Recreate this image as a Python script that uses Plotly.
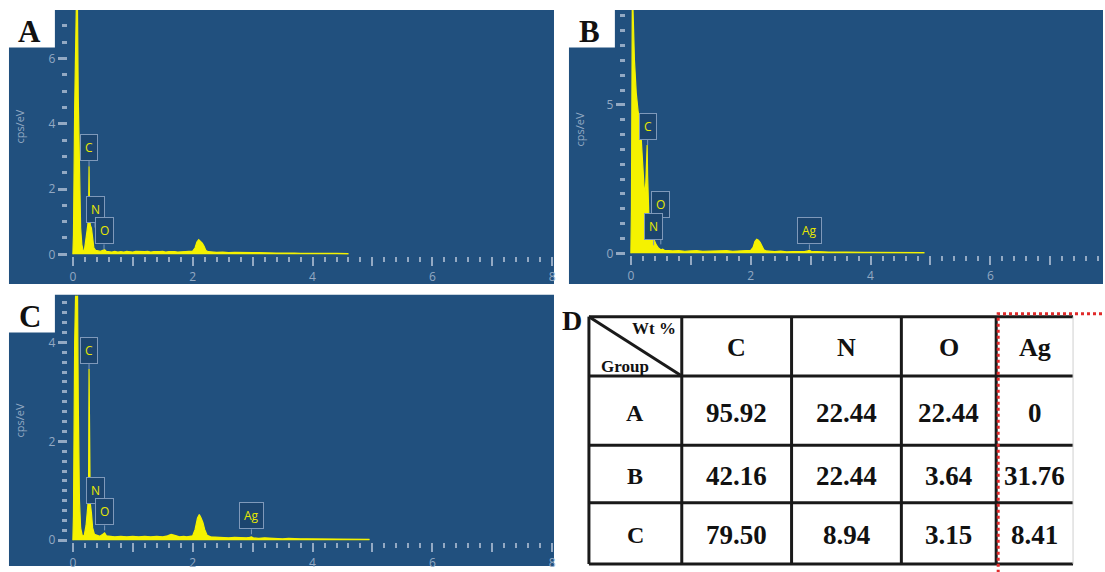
import plotly.graph_objects as go

# ---------------- data ----------------
energy_A = [0.00, 0.01, 0.03, 0.05, 0.07, 0.09, 0.11, 0.13, 0.15, 0.17, 0.19, 0.21, 0.23, 0.25, 0.262, 0.27, 0.278,
            0.29, 0.31, 0.33, 0.35, 0.38, 0.42, 0.46, 0.50, 0.53, 0.56, 0.60, 0.65, 0.70, 0.75, 0.80, 0.85, 0.90,
            0.95, 1.00, 1.05, 1.10, 1.15, 1.20, 1.25, 1.30, 1.35, 1.40, 1.45, 1.50, 1.55, 1.60, 1.65, 1.70, 1.75,
            1.80, 1.85, 1.90, 1.95, 2.00, 2.04, 2.07, 2.10, 2.13, 2.16, 2.19, 2.22, 2.26, 2.30, 2.35, 2.40, 2.50,
            2.60, 2.70, 2.80, 2.90, 3.00, 3.10, 3.20, 3.30, 3.40, 3.50, 3.60, 3.70, 3.80, 3.90, 4.00, 4.10, 4.20,
            4.30, 4.40, 4.50, 4.60]
cps_A = [0.00, 0.60, 4.50, 9.00, 9.00, 4.80, 2.00, 0.80, 0.30, 0.12, 0.10, 0.35, 0.70, 0.90, 1.20, 2.70, 1.30,
         0.90, 0.80, 0.45, 0.20, 0.12, 0.10, 0.09, 0.12, 0.14, 0.09, 0.08, 0.07, 0.09, 0.07, 0.08, 0.07, 0.09,
         0.08, 0.07, 0.09, 0.08, 0.07, 0.08, 0.09, 0.07, 0.08, 0.07, 0.08, 0.09, 0.07, 0.08, 0.09, 0.08, 0.07,
         0.08, 0.07, 0.08, 0.09, 0.10, 0.20, 0.38, 0.45, 0.40, 0.34, 0.25, 0.12, 0.08, 0.07, 0.08, 0.06, 0.07,
         0.05, 0.06, 0.05, 0.06, 0.05, 0.05, 0.04, 0.05, 0.04, 0.04, 0.05, 0.04, 0.03, 0.04, 0.03, 0.03, 0.04,
         0.03, 0.03, 0.02, 0.02]

energy_B = [0.00, 0.01, 0.025, 0.04, 0.06, 0.09, 0.12, 0.16, 0.19, 0.21, 0.23, 0.25, 0.265, 0.272, 0.28, 0.30,
            0.33, 0.36, 0.39, 0.42, 0.46, 0.50, 0.53, 0.56, 0.60, 0.70, 0.80, 0.90, 1.00, 1.10, 1.20, 1.30, 1.40,
            1.50, 1.60, 1.70, 1.80, 1.90, 2.00, 2.04, 2.07, 2.10, 2.13, 2.16, 2.19, 2.22, 2.26, 2.30, 2.40, 2.50,
            2.60, 2.70, 2.80, 2.90, 2.95, 2.98, 3.01, 3.10, 3.20, 3.30, 3.40, 3.50, 3.60, 3.70, 3.80, 3.90, 4.00,
            4.20, 4.40, 4.60, 4.80, 4.90]
cps_B = [0.00, 1.50, 9.00, 8.00, 6.50, 5.40, 4.80, 4.30, 3.40, 2.60, 1.90, 2.40, 3.00, 3.65, 2.60, 1.30,
         0.85, 0.60, 0.45, 0.30, 0.18, 0.12, 0.14, 0.10, 0.09, 0.08, 0.09, 0.07, 0.08, 0.09, 0.07, 0.08, 0.07,
         0.08, 0.09, 0.07, 0.08, 0.08, 0.10, 0.20, 0.40, 0.47, 0.44, 0.36, 0.25, 0.12, 0.08, 0.07, 0.06, 0.07,
         0.05, 0.06, 0.05, 0.06, 0.08, 0.10, 0.07, 0.05, 0.05, 0.04, 0.05, 0.04, 0.04, 0.03, 0.04, 0.03, 0.03,
         0.03, 0.03, 0.02, 0.02, 0.02]

energy_C = [0.00, 0.01, 0.03, 0.05, 0.07, 0.09, 0.11, 0.13, 0.16, 0.19, 0.22, 0.25, 0.262, 0.27, 0.278, 0.29,
            0.31, 0.33, 0.36, 0.40, 0.45, 0.50, 0.53, 0.56, 0.60, 0.70, 0.80, 0.90, 1.00, 1.10, 1.20, 1.30, 1.40,
            1.50, 1.58, 1.64, 1.70, 1.78, 1.85, 1.90, 2.00, 2.04, 2.08, 2.11, 2.14, 2.17, 2.20, 2.24, 2.30, 2.40,
            2.50, 2.60, 2.70, 2.80, 2.90, 2.95, 2.98, 3.01, 3.10, 3.20, 3.30, 3.40, 3.50, 3.60, 3.70, 3.80, 3.90,
            4.00, 4.20, 4.40, 4.60, 4.80, 4.95]
cps_C = [0.00, 0.50, 4.00, 6.50, 6.50, 2.80, 0.80, 0.25, 0.08, 0.10, 0.30, 0.70, 1.00, 3.46, 1.00, 0.75,
         0.55, 0.25, 0.12, 0.10, 0.08, 0.12, 0.15, 0.09, 0.08, 0.07, 0.08, 0.07, 0.08, 0.07, 0.08, 0.07, 0.08,
         0.07, 0.09, 0.12, 0.10, 0.07, 0.08, 0.07, 0.09, 0.22, 0.45, 0.52, 0.45, 0.36, 0.22, 0.10, 0.07, 0.06,
         0.06, 0.05, 0.06, 0.05, 0.05, 0.06, 0.07, 0.05, 0.04, 0.05, 0.04, 0.04, 0.03, 0.04, 0.03, 0.03, 0.03,
         0.03, 0.03, 0.02, 0.02, 0.02, 0.02]

# peak markers (element, energy keV, cps at pointer)
labels_A = ["C", "N", "O"]
label_x_A = [0.27, 0.37, 0.52]
label_y_A = [2.70, 0.82, 0.15]
labels_B = ["C", "O", "N", "Ag"]
label_x_B = [0.28, 0.50, 0.38, 2.98]
label_y_B = [3.65, 0.30, 0.27, 0.13]
labels_C = ["C", "N", "O", "Ag"]
label_x_C = [0.27, 0.38, 0.53, 2.98]
label_y_C = [3.46, 0.64, 0.20, 0.12]

# table (Wt %)
table_elements = ["C", "N", "O", "Ag"]
table_groups = ["A", "B", "C"]
wt_C = [95.92, 42.16, 79.50]
wt_N = [22.44, 22.44, 8.94]
wt_O = [22.44, 3.64, 3.15]
wt_Ag = [0, 31.76, 8.41]

# ---------------- layout helpers ----------------
W, H = 1105, 572
def X(px):
    return px / W
def Y(py):
    return 1 - py / H

BLUE = "#21507e"
TICK = "#93a9c3"
YELLOW = "#f5f200"
SERIF = "Liberation Serif, Times New Roman, serif"
SANS = "Open Sans, Noto Sans, sans-serif"

fig = go.Figure()

for E, c, xa, ya in [(energy_A, cps_A, "x", "y"), (energy_B, cps_B, "x2", "y2"), (energy_C, cps_C, "x3", "y3")]:
    fig.add_trace(go.Scatter(x=E, y=c, xaxis=xa, yaxis=ya, mode="lines", fill="tozeroy",
                             line=dict(color=YELLOW, width=1.2), fillcolor=YELLOW, hoverinfo="skip",
                             showlegend=False, cliponaxis=True))

def xaxis_cfg(d0, d1, r1, anchor):
    return dict(domain=[X(d0), X(d1)], range=[-0.05, r1], anchor=anchor, showgrid=False, zeroline=False,
                showline=False, ticks="outside", ticklen=9, tickwidth=2.2, tickcolor=TICK,
                tickmode="array", tickvals=list(range(9)),
                ticktext=["0", "", "2", "", "4", "", "6", "", "8"],
                tickfont=dict(family=SANS, size=12, color=TICK),
                minor=dict(ticks="outside", ticklen=5, tickwidth=2.2, tickcolor=TICK, tick0=0, dtick=0.2,
                           showgrid=False), fixedrange=True)

def yaxis_cfg(top, bot, r0, r1, pos, dt, mdt):
    return dict(domain=[Y(bot), Y(top)], range=[r0, r1], anchor="free", position=X(pos), showgrid=False,
                zeroline=False, showline=False, ticks="outside", ticklen=9, tickwidth=2.5, tickcolor=TICK,
                tickmode="linear", tick0=0, dtick=dt, tickfont=dict(family=SANS, size=12, color=TICK),
                minor=dict(ticks="outside", ticklen=5, tickwidth=2.5, tickcolor=TICK, tick0=0, dtick=mdt,
                           showgrid=False), fixedrange=True)

shapes = []
annotations = []

def txt(text, px, py, size, family=SERIF, color="#111111", angle=0):
    return dict(text=text, xref="paper", yref="paper", x=X(px), y=Y(py), showarrow=False,
                xanchor="center", yanchor="middle", textangle=angle,
                font=dict(family=family, size=size, color=color))

# panel backgrounds and letter boxes
panels = [(9, 10, 555, 287, "A"), (570, 10, 1105, 287, "B"), (9, 298, 555, 572, "C")]
for x0, y0, x1, y1, name in panels:
    shapes.append(dict(type="rect", xref="paper", yref="paper", x0=X(x0), x1=X(x1), y0=Y(y1), y1=Y(y0),
                       fillcolor=BLUE, line=dict(width=0), layer="below"))
    shapes.append(dict(type="rect", xref="paper", yref="paper", x0=X(x0 - 2), x1=X(x0 + 46), y0=Y(y0 + 38),
                       y1=Y(y0 - 1), fillcolor="white", line=dict(width=0), layer="below"))
    annotations.append(txt("<b>%s</b>" % name, x0 + 21, y0 + 22, 31))

# cps/eV titles
for px, py in [(20, 128), (581, 131), (20, 425)]:
    annotations.append(txt("cps/eV", px, py, 11, family=SANS, color=TICK, angle=-90))

# peak label boxes
def add_labels(names, xs, ys, xr, yr, long_idx=None):
    for i, (n, xv, yv) in enumerate(zip(names, xs, ys)):
        ay = -26 if (long_idx is not None and i == long_idx) else -5
        annotations.append(dict(text=n, x=xv, y=yv, xref=xr, yref=yr, showarrow=True, arrowhead=0,
                                arrowwidth=1, arrowcolor="#7f99ba", ax=0, ay=ay, xanchor="center",
                                yanchor="bottom", bordercolor="#7f99ba", borderwidth=1, borderpad=4,
                                bgcolor="#1c456f", font=dict(family=SANS, size=12, color="#e8e800")))

add_labels(labels_A, label_x_A, label_y_A, "x", "y")
add_labels(labels_B, label_x_B, label_y_B, "x2", "y2", long_idx=1)
add_labels(labels_C, label_x_C, label_y_C, "x3", "y3")

# ---------------- table D ----------------
col_edges = [590, 683, 793, 903, 998, 1075]
row_edges = [320, 380, 450, 508, 570]
LINE = "#1a1a1a"
for cx in col_edges[:-1]:
    shapes.append(dict(type="line", xref="paper", yref="paper", x0=X(cx), x1=X(cx), y0=Y(row_edges[0]),
                       y1=Y(row_edges[-1]), line=dict(color=LINE, width=3)))
for ry in row_edges:
    shapes.append(dict(type="line", xref="paper", yref="paper", x0=X(col_edges[0]), x1=X(col_edges[-1]),
                       y0=Y(ry), y1=Y(ry), line=dict(color=LINE, width=3)))
shapes.append(dict(type="line", xref="paper", yref="paper", x0=X(col_edges[0]), x1=X(col_edges[1]),
                   y0=Y(row_edges[0]), y1=Y(row_edges[1]), line=dict(color=LINE, width=3)))
shapes.append(dict(type="line", xref="paper", yref="paper", x0=X(col_edges[-1]), x1=X(col_edges[-1]),
                   y0=Y(row_edges[0]), y1=Y(row_edges[-1]), line=dict(color="#cfcfcf", width=1)))
# red dotted highlight around Ag column
shapes.append(dict(type="rect", xref="paper", yref="paper", x0=X(1000), x1=X(1120), y0=Y(580), y1=Y(317),
                   line=dict(color="#e02a2a", width=3, dash="dot"), fillcolor="rgba(0,0,0,0)"))

annotations.append(txt("<b>D</b>", 573, 324, 28))
annotations.append(txt("<b>Wt %</b>", 655, 332, 17))
annotations.append(txt("<b>Group</b>", 626, 370, 17))

def cell_center(ci, ri):
    return (col_edges[ci] + col_edges[ci + 1]) / 2, (row_edges[ri] + row_edges[ri + 1]) / 2

for j, el in enumerate(table_elements):
    cx, cy = cell_center(j + 1, 0)
    annotations.append(txt("<b>%s</b>" % el, cx, cy + 1, 26))
for i, g in enumerate(table_groups):
    cx, cy = cell_center(0, i + 1)
    annotations.append(txt("<b>%s</b>" % g, cx, cy + 2, 24))
    for j, col in enumerate([wt_C, wt_N, wt_O, wt_Ag]):
        v = col[i]
        t = "0" if v == 0 else "%.2f" % v
        cx, cy = cell_center(j + 1, i + 1)
        annotations.append(txt("<b>%s</b>" % t, cx, cy + 2, 27))

fig.update_layout(
    width=W, height=H, margin=dict(l=0, r=0, t=0, b=0, pad=0), autosize=False,
    paper_bgcolor="white", plot_bgcolor="rgba(0,0,0,0)", showlegend=False,
    xaxis=xaxis_cfg(70, 555, 8.03, "y"),
    yaxis=yaxis_cfg(10, 259, -0.06, 7.485, 67, 2, 0.5),
    xaxis2=xaxis_cfg(629, 1105, 7.88, "y2"),
    yaxis2=yaxis_cfg(10, 258, -0.067, 8.2, 626, 5, 0.5),
    xaxis3=xaxis_cfg(70, 555, 8.03, "y3"),
    yaxis3=yaxis_cfg(299, 548, -0.04, 4.94, 67, 2, 0.2),
    shapes=shapes, annotations=annotations,
)

fig.write_html("out.html")
